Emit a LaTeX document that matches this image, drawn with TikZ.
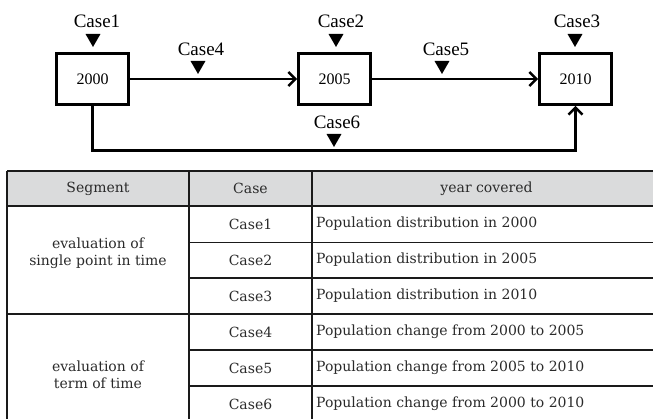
\documentclass[tikz,border=0pt]{standalone}
\usepackage{fontspec}
\setmainfont{Liberation Serif}
\newfontfamily\tabfont{DejaVu Serif}
\usetikzlibrary{arrows.meta,shapes.geometric}
\definecolor{hdr}{HTML}{DADBDC}
\definecolor{tline}{HTML}{1A1A1A}
\definecolor{ttext}{HTML}{2A2A2A}
\begin{document}
\begin{tikzpicture}[x=1pt,y=-1pt,
  yearbox/.style={draw, line width=2.6pt, minimum width=72pt, minimum height=51pt, inner sep=0pt, font=\fontsize{16}{18}\selectfont},
  tri/.style={regular polygon, regular polygon sides=3, shape border rotate=180, fill=black, minimum size=17.3pt, inner sep=0pt},
  caselab/.style={font=\rmfamily\fontsize{19}{21}\selectfont, inner sep=0pt},
  conn/.style={line width=2.6pt, -{Straight Barb[length=7pt,width=14pt]}},
  tl/.style={line width=1.6pt, draw=tline},
  tcell/.style={font=\tabfont\fontsize{14}{16.5}\selectfont, text=ttext, inner sep=0pt, align=center},
  tleft/.style={tcell, anchor=west}]
\useasboundingbox (0,0) rectangle (653,418);
% diagram
\node[yearbox] (b1) at (92.5,79) {2000};
\node[yearbox] (b2) at (334.5,79) {2005};
\node[yearbox] (b3) at (575.5,79) {2010};
\coordinate (c6) at (334,150.7);
\draw[conn] (b1) -- (b2);
\draw[conn] (b2) -- (b3);
\draw[conn] (b1.south) |- (c6) -| (b3.south);
\node[tri] (t1) at (93,38.3) {};
\node[tri] (t2) at (336,38.3) {};
\node[tri] (t3) at (575,38.3) {};
\node[tri] (t4) at (198,65.3) {};
\node[tri] (t5) at (442,65.3) {};
\node[tri] (t6) at (334,138.3) {};
\node[caselab] (l1) at (97,21) {Case1};
\node[caselab] (l2) at (341,21) {Case2};
\node[caselab] (l3) at (577,21) {Case3};
\node[caselab] (l4) at (201,49) {Case4};
\node[caselab] (l5) at (446,49) {Case5};
\node[caselab] (l6) at (337,122) {Case6};
% table
\begin{scope}
\clip (0,0) rectangle (653,418);
\fill[hdr] (7,171) rectangle (680,206);
\draw[tl] (7,171) -- (680,171);
\draw[tl] (7,206) -- (680,206);
\draw[tl] (189,242.5) -- (680,242.5);
\draw[tl] (189,278) -- (680,278);
\draw[tl] (7,314) -- (680,314);
\draw[tl] (189,350) -- (680,350);
\draw[tl] (189,386) -- (680,386);
\draw[tl] (7,171) -- (7,430);
\draw[tl] (189,171) -- (189,430);
\draw[tl] (312,171) -- (312,430);
\node[tcell] (h1) at (98,188.5) {Segment};
\node[tcell] (h2) at (250.5,188.5) {Case};
\node[tcell] (h3) at (486.5,188.5) {year covered};
\node[tcell] (s1) at (98,253) {evaluation of\\single point in time};
\node[tcell] (s2) at (98,375) {evaluation of\\term of time};
\node[tcell] (k1) at (250.5,224) {Case1};
\node[tcell] (k2) at (250.5,260) {Case2};
\node[tcell] (k3) at (250.5,296) {Case3};
\node[tcell] (k4) at (250.5,332) {Case4};
\node[tcell] (k5) at (250.5,368) {Case5};
\node[tcell] (k6) at (250.5,404) {Case6};
\node[tleft] (y1) at (316,224) {Population distribution in 2000};
\node[tleft] (y2) at (316,260) {Population distribution in 2005};
\node[tleft] (y3) at (316,296) {Population distribution in 2010};
\node[tleft] (y4) at (316,332) {Population change from 2000 to 2005};
\node[tleft] (y5) at (316,368) {Population change from 2005 to 2010};
\node[tleft] (y6) at (316,404) {Population change from 2000 to 2010};
\end{scope}
\end{tikzpicture}
\end{document}
